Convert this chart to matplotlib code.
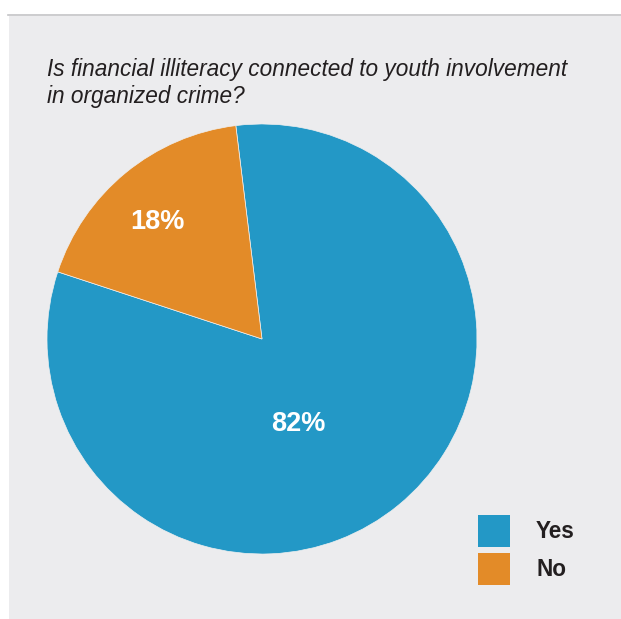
import numpy as np
import matplotlib.pyplot as plt
from matplotlib.patches import Rectangle

# survey answers
answers = ["Yes", "No"]
shares = [82, 18]
colors = ["#2398c6", "#e38b28"]
question = ("Is financial illiteracy connected to youth involvement\n"
            "in organized crime?")

W, H = 621, 619
fig = plt.figure(figsize=(W / 100, H / 100), dpi=100)
fig.patch.set_facecolor("white")

# grey panel behind the chart, with a rule along its top
fig.patches.append(Rectangle((9 / W, 0), 1 - 9 / W, 1 - 16 / H,
                             transform=fig.transFigure, facecolor="#ececee",
                             edgecolor="none", zorder=-5))
fig.add_artist(plt.Line2D([8 / W, 1], [1 - 15 / H, 1 - 15 / H],
                          transform=fig.transFigure, color="#c4c4c6", lw=1.2))

fig.text(47 / W, 1 - 58 / H, question, ha="left", va="top", style="italic",
         fontsize=16.3, color="#231f20", family="Liberation Sans",
         linespacing=1.2)

# pie: centre at (262, 339) px, radius 215 px
cx, cy, r = 262, 339, 215
ax = fig.add_axes([(cx - r) / W, (H - cy - r) / H, 2 * r / W, 2 * r / H])
ax.set_facecolor("none")
ax.set_zorder(2)
wedges, _ = ax.pie(shares, colors=colors, startangle=161.8, radius=1,
                   wedgeprops=dict(edgecolor="#f0f0f0", linewidth=0.5))
ax.set_xlim(-1, 1)
ax.set_ylim(-1, 1)
ax.set_aspect("equal")
ax.axis("off")

# value labels inside the wedges (angle in degrees, distance from centre)
label_pos = [(-67, 0.43), (131.7, 0.73)]
for share, (ang, dist) in zip(shares, label_pos):
    a = np.deg2rad(ang)
    ax.text(dist * np.cos(a), dist * np.sin(a), f"{share}%", ha="center",
            va="center", color="white", fontsize=19.5, fontweight="bold",
            family="Liberation Sans")

# legend
for i, (name, col) in enumerate(zip(answers, colors)):
    top = 515 + i * 38
    fig.patches.append(Rectangle((478 / W, 1 - (top + 32) / H), 32 / W, 32 / H,
                                 transform=fig.transFigure, facecolor=col,
                                 edgecolor="none"))
    fig.text(536 / W, 1 - (top + 17) / H, name, ha="left", va="center",
             fontsize=16.3, fontweight="bold", color="#231f20",
             family="Liberation Sans")

fig.savefig("out.png", dpi=100)
